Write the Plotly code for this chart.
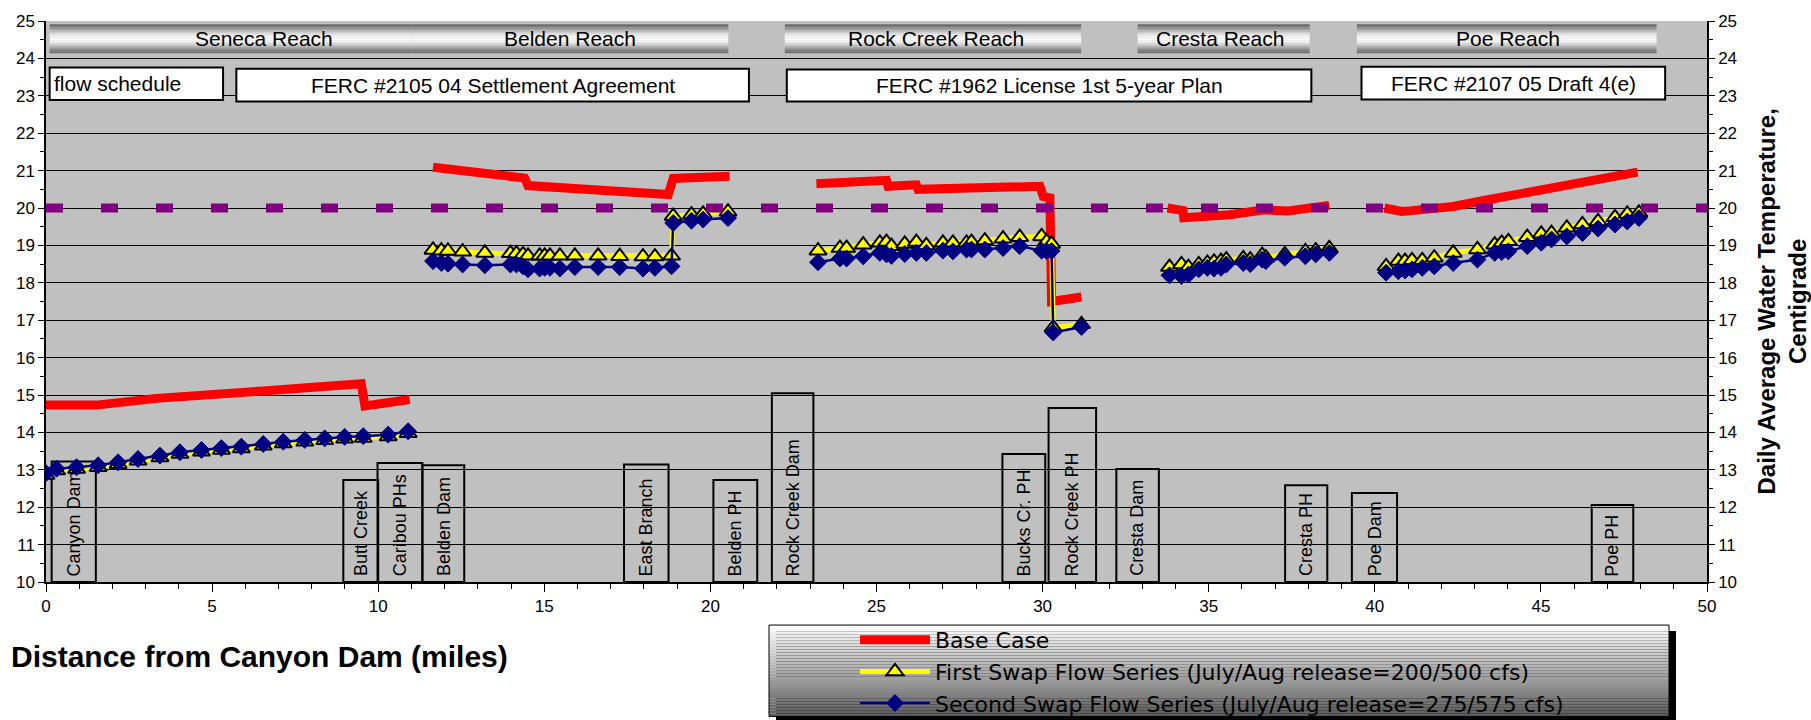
import math
import plotly.graph_objects as go

# ---------------- data ----------------
N = None
base_x = [0, 1.52, 3.33, 5.13, 6.54, 8.04, 9.49, 9.6, 10.95, N,
          11.65, 13.06, 14.41, 14.51, 15.77, 17.27, 18.18, 18.73, 18.88, 20.58, N,
          23.19, 25.3, 25.35, 26.2, 26.25, 28.11, 29.92, 30.02, 30.22, 30.27, 31.17, N,
          33.76, 34.23, 34.25, 35.63, 36.67, 37.39, 38.63, N,
          40.29, 40.81, 41.12, 42.36, 43.4, 44.96, 46.51, 47.91]
base_y = [14.73, 14.73, 14.91, 14.99, 15.11, 15.21, 15.3, 14.71, 14.88, N,
          21.09, 20.94, 20.8, 20.6, 20.54, 20.47, 20.38, 20.36, 20.79, 20.85, N,
          20.65, 20.74, 20.58, 20.62, 20.5, 20.55, 20.58, 20.31, 20.27, 17.5, 17.62, N,
          20.0, 19.93, 19.74, 19.82, 19.95, 19.92, 20.07, N,
          20.0, 19.91, 19.93, 20.04, 20.22, 20.46, 20.69, 20.96]

swap_x = [0, 0.32, 0.92, 1.57, 2.17, 2.77, 3.43, 4.03, 4.68, 5.28, 5.88, 6.54, 7.14, 7.79,
          8.39, 8.99, 9.55, 10.3, 10.9, N,
          11.65, 11.9, 12.1, 12.54, 13.21, 13.98, 14.16, 14.36, 14.51, 14.86, 15.01, 15.17,
          15.47, 15.92, 16.62, 17.27, 17.97, 18.33, 18.83, 18.88, 19.43, 19.78, 20.53, N,
          23.24, 23.9, 24.1, 24.6, 25.1, 25.3, 25.45, 25.85, 26.2, 26.5, 27.0, 27.3, 27.71,
          27.86, 28.26, 28.81, 29.31, 29.97, 30.12, 30.27, 30.32, 31.17, N,
          33.82, 34.18, 34.39, 34.7, 34.96, 35.16, 35.37, 35.53, 36.04, 36.25, 36.61, 36.72,
          37.29, 37.91, 38.22, 38.63, N,
          40.34, 40.71, 40.91, 41.12, 41.43, 41.79, 42.36, 43.09, 43.61, 43.82, 44.02, 44.59,
          45.01, 45.32, 45.78, 46.25, 46.72, 47.23, 47.6, 47.95]

first_swap_y = [12.86, 12.98, 13.02, 13.07, 13.15, 13.24, 13.33, 13.42, 13.48, 13.53, 13.57,
                13.64, 13.7, 13.75, 13.79, 13.83, 13.85, 13.89, 13.98, N,
                18.88, 18.86, 18.85, 18.83, 18.8, 18.79, 18.78, 18.76, 18.72, 18.72, 18.72,
                18.72, 18.72, 18.72, 18.72, 18.71, 18.7, 18.7, 18.72, 19.78, 19.82, 19.84, 19.9, N,
                18.86, 18.93, 18.93, 19.02, 19.07, 19.09, 18.98, 19.04, 19.09, 19.0, 19.07,
                19.07, 19.07, 19.09, 19.13, 19.18, 19.22, 19.24, 19.1, 19.04, 16.8, 16.89, N,
                18.42, 18.49, 18.42, 18.49, 18.53, 18.56, 18.58, 18.62, 18.65, 18.62, 18.74,
                18.67, 18.76, 18.84, 18.86, 18.92, N,
                18.44, 18.58, 18.58, 18.6, 18.6, 18.67, 18.8, 18.89, 19.02, 19.07, 19.11,
                19.22, 19.31, 19.33, 19.47, 19.56, 19.64, 19.75, 19.84, 19.87]

second_swap_y = [12.91, 13.03, 13.07, 13.12, 13.2, 13.29, 13.38, 13.47, 13.53, 13.58, 13.62,
                 13.69, 13.75, 13.8, 13.84, 13.88, 13.9, 13.94, 14.03, N,
                 18.58, 18.53, 18.51, 18.49, 18.47, 18.49, 18.49, 18.44, 18.36, 18.38, 18.4,
                 18.4, 18.38, 18.42, 18.42, 18.42, 18.38, 18.4, 18.44, 19.6, 19.66, 19.69, 19.73, N,
                 18.55, 18.65, 18.65, 18.71, 18.8, 18.76, 18.72, 18.77, 18.8, 18.8, 18.86,
                 18.84, 18.89, 18.89, 18.89, 18.93, 18.98, 18.86, 18.85, 18.85, 16.67, 16.82, N,
                 18.2, 18.18, 18.22, 18.36, 18.4, 18.38, 18.4, 18.49, 18.53, 18.5, 18.62,
                 18.58, 18.67, 18.71, 18.76, 18.8, N,
                 18.27, 18.31, 18.33, 18.36, 18.4, 18.44, 18.53, 18.62, 18.8, 18.82, 18.84,
                 18.98, 19.07, 19.16, 19.24, 19.33, 19.45, 19.56, 19.64, 19.73]

threshold_x = [0, 50]
threshold_y = [20, 20]

x_tick_vals = [0, 5, 10, 15, 20, 25, 30, 35, 40, 45, 50]
y_tick_vals = list(range(10, 26))

series_names = ["Base Case",
                "First Swap Flow Series (July/Aug release=200/500 cfs)",
                "Second Swap Flow Series (July/Aug release=275/575 cfs)"]

reach_names = ["Seneca Reach", "Belden Reach", "Rock Creek Reach", "Cresta Reach", "Poe Reach"]
reach_start = [0.11, 11.0, 22.24, 32.86, 39.46]
reach_end = [11.0, 20.54, 31.16, 38.04, 48.48]
reach_label_at = [6.56, 15.78, 26.8, 35.35, 44.0]

plan_names = ["flow schedule", "FERC #2105 04 Settlement Agreement",
              "FERC #1962 License 1st 5-year Plan", "FERC #2107 05 Draft 4(e)"]
plan_start = [0.11, 5.73, 22.3, 39.6]
plan_end = [5.33, 21.16, 38.09, 48.74]

station_names = ["Canyon Dam", "Butt Creek", "Caribou PHs", "Belden Dam", "East Branch",
                 "Belden PH", "Rock Creek Dam", "Bucks Cr. PH", "Rock Creek PH", "Cresta Dam",
                 "Cresta PH", "Poe Dam", "Poe PH"]
station_start = [0.17, 8.95, 9.98, 11.33, 17.4, 20.09, 21.85, 28.79, 30.18, 32.22, 37.3, 39.31, 46.53]
station_end = [1.5, 10.0, 11.33, 12.59, 18.74, 21.41, 23.1, 30.08, 31.61, 33.5, 38.57, 40.67, 47.78]
station_top = [13.22, 12.73, 13.18, 13.12, 13.14, 12.73, 15.05, 13.42, 14.65, 13.02, 12.59, 12.38, 12.06]

# ---------------- styling ----------------
FONT = "Liberation Sans, Arial, sans-serif"
LEG_FONT = "DejaVu Sans, Liberation Sans, sans-serif"
W, H = 1811, 736
K = H / 720.0          # page rows are photographed into 720 rows
ML, MR = 46, 104
MT = round(21 * K)
BOT = round(579 * K)
MB = H - BOT
PW, PH = W - ML - MR, H - MT - MB

fig = go.Figure()
fig.add_trace(go.Scatter(x=base_x, y=base_y, name=series_names[0], mode="lines",
                         line=dict(color="#FF0000", width=9), connectgaps=False))
fig.add_trace(go.Scatter(x=swap_x, y=first_swap_y, name=series_names[1], mode="lines+markers",
                         line=dict(color="#FFFF00", width=5),
                         marker=dict(symbol="triangle-up", size=15, color="#FFFF00",
                                     line=dict(color="#000000", width=2)),
                         connectgaps=False))
fig.add_trace(go.Scatter(x=swap_x, y=second_swap_y, name=series_names[2], mode="lines+markers",
                         line=dict(color="#000080", width=2.5),
                         marker=dict(symbol="diamond", size=13, color="#000080",
                                     line=dict(color="#000080", width=1)),
                         connectgaps=False))
fig.add_trace(go.Scatter(x=threshold_x, y=threshold_y, mode="lines", yaxis="y2", showlegend=False,
                         line=dict(color="#800080", width=9, dash="17px,38px"), hoverinfo="skip"))

shapes = []
annotations = []


def gray(v):
    v = int(max(0, min(255, round(v))))
    return f"rgb({v},{v},{v})"


# reach header bars with gradient
bar_lo, bar_hi = 24.14, 24.91
nstr = 18
for name, x0, x1, xl in zip(reach_names, reach_start, reach_end, reach_label_at):
    for i in range(nstr):
        t = (i + 0.5) / nstr
        v = 105 + 148 * (math.sin(math.pi * t) ** 1.6)
        ya = bar_hi - (bar_hi - bar_lo) * i / nstr
        yb = bar_hi - (bar_hi - bar_lo) * (i + 1) / nstr
        shapes.append(dict(type="rect", xref="x", yref="y", x0=x0, x1=x1, y0=yb, y1=ya,
                           fillcolor=gray(v), line=dict(width=0), layer="between"))
    annotations.append(dict(x=xl, y=(bar_lo + bar_hi) / 2, xref="x", yref="y",
                            text=name, showarrow=False,
                            font=dict(family=FONT, size=21, color="#000000")))

# flow-plan boxes
plan_lo = [22.89, 22.85, 22.85, 22.9]
plan_hi = [23.76, 23.72, 23.7, 23.78]
for i, (name, x0, x1) in enumerate(zip(plan_names, plan_start, plan_end)):
    shapes.append(dict(type="rect", xref="x", yref="y", x0=x0, x1=x1, y0=plan_lo[i], y1=plan_hi[i],
                       fillcolor="#FFFFFF", line=dict(color="#000000", width=2), layer="between"))
    if i == 0:
        annotations.append(dict(x=x0 + 0.08, y=(plan_lo[i] + plan_hi[i]) / 2, xref="x", yref="y",
                                text=name, showarrow=False, xanchor="left",
                                font=dict(family=FONT, size=21, color="#000000")))
    else:
        annotations.append(dict(x=(x0 + x1) / 2, y=(plan_lo[i] + plan_hi[i]) / 2, xref="x", yref="y",
                                text=name, showarrow=False,
                                font=dict(family=FONT, size=21, color="#000000")))

# station label boxes
for name, x0, x1, top in zip(station_names, station_start, station_end, station_top):
    shapes.append(dict(type="rect", xref="x", yref="y", x0=x0, x1=x1, y0=10.0, y1=top,
                       fillcolor="rgba(0,0,0,0)", line=dict(color="#000000", width=2),
                       layer="between"))
    annotations.append(dict(x=(x0 + x1) / 2, y=10.1, xref="x", yref="y", text=name,
                            showarrow=False, textangle=-90, xanchor="center", yanchor="bottom",
                            font=dict(family=FONT, size=18, color="#000000")))


# helpers: reference-pixel positions -> paper coordinates
def px_x(px):
    return (px - ML) / PW


def px_y(py_ref):
    return (BOT - py_ref * K) / PH


# legend box with shadow & gradient
lx0, lx1, ly0, ly1 = 769, 1669, 622, 713
shapes.append(dict(type="rect", xref="paper", yref="paper", x0=px_x(lx0 + 7), x1=px_x(lx1 + 7),
                   y0=px_y(ly1 + 6), y1=px_y(ly0 + 6), fillcolor="#000000", line=dict(width=0),
                   layer="above"))
nl = 30
for i in range(nl):
    t = (i + 0.5) / nl
    v = 255 - 165 * t
    ya = ly0 + (ly1 - ly0) * i / nl
    yb = ly0 + (ly1 - ly0) * (i + 1) / nl
    shapes.append(dict(type="rect", xref="paper", yref="paper", x0=px_x(lx0), x1=px_x(lx1),
                       y0=px_y(yb), y1=px_y(ya), fillcolor=gray(v), line=dict(width=0),
                       layer="above"))
shapes.append(dict(type="rect", xref="paper", yref="paper", x0=px_x(lx0), x1=px_x(lx1),
                   y0=px_y(ly1), y1=px_y(ly0), fillcolor="rgba(0,0,0,0)",
                   line=dict(color="#000000", width=1), layer="above"))

# axis titles
annotations.append(dict(xref="paper", yref="paper", x=px_x(9), y=px_y(653), xanchor="left",
                        yanchor="middle", showarrow=False,
                        text="<b>Distance from Canyon Dam (miles)</b>",
                        font=dict(family=FONT, size=30, color="#000000")))
annotations.append(dict(xref="paper", yref="paper", x=px_x(1781), y=0.5, xanchor="center",
                        yanchor="middle", showarrow=False, textangle=-90,
                        text="<b>Daily Average Water Temperature,<br>Centigrade</b>",
                        font=dict(family=FONT, size=24, color="#000000")))

axis_common = dict(showline=True, linecolor="#000000", linewidth=1.5, ticks="outside",
                   tickcolor="#000000", tickfont=dict(family=FONT, size=17, color="#000000"),
                   zeroline=False, automargin=False)

fig.update_layout(
    width=W, height=H,
    margin=dict(l=ML, r=MR, t=MT, b=MB, pad=0),
    paper_bgcolor="#FFFFFF",
    plot_bgcolor="#C0C0C0",
    font=dict(family=FONT, color="#000000"),
    showlegend=True,
    legend=dict(x=px_x(855), y=px_y(616), xanchor="left", yanchor="top",
                bgcolor="rgba(0,0,0,0)", borderwidth=0, itemwidth=70,
                font=dict(family=LEG_FONT, size=22, color="#000000"), tracegroupgap=0),
    xaxis=dict(range=[0, 50], tickvals=x_tick_vals, ticklen=8, showgrid=False,
               minor=dict(dtick=1, ticks="outside", ticklen=5, tickcolor="#000000"),
               **axis_common),
    yaxis=dict(range=[10, 25], tickvals=y_tick_vals, ticklen=6, showgrid=True,
               gridcolor="#000000", gridwidth=1.3,
               minor=dict(dtick=0.5, ticks="outside", ticklen=4, tickcolor="#000000", showgrid=False),
               **axis_common),
    yaxis2=dict(range=[10, 25], tickvals=y_tick_vals, overlaying="y", side="right", ticklen=6,
                showgrid=False,
                minor=dict(dtick=0.5, ticks="outside", ticklen=4, tickcolor="#000000"),
                **axis_common),
    shapes=shapes,
    annotations=annotations,
)

fig.write_html("out.html", config={"displayModeBar": False},
               post_script="document.body.style.margin='0px';document.body.style.overflow='hidden';")
